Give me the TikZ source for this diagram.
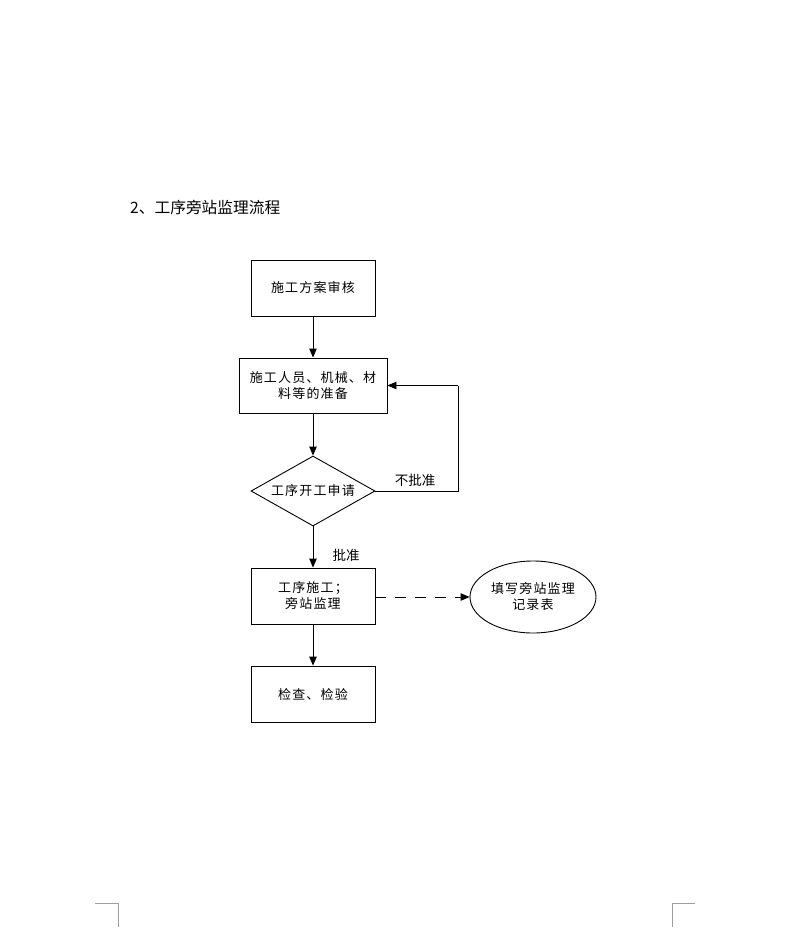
\documentclass[tikz,border=0pt]{standalone}
\usepackage{fontspec}
\setmainfont{Noto Sans CJK SC}
\newfontfamily\cjkbox[LetterSpace=9]{Noto Sans CJK SC}
\usetikzlibrary{shapes.geometric,arrows.meta}
\begin{document}
\begin{tikzpicture}[x=1pt,y=-1pt,
  boxtext/.style={font=\cjkbox\fontsize{13pt}{16pt}\selectfont, align=center, inner sep=0pt},
  procbox/.style={draw, line width=0.9pt, minimum width=124pt, minimum height=56pt, boxtext},
  decis/.style={draw, line width=0.9pt, diamond, minimum width=124pt, minimum height=70pt, boxtext, aspect=1.77},
  recell/.style={draw, line width=0.9pt, ellipse, minimum width=126pt, minimum height=72pt, boxtext},
  flow/.style={line width=0.9pt, -{Triangle[length=9pt,width=7.5pt]}},
  lbl/.style={font=\fontsize{13.5pt}{15pt}\selectfont, inner sep=0pt},
  cornermark/.style={draw=black!38, line width=0.8pt}]
\useasboundingbox (0,0) rectangle (792,937);
\fill[white] (0,0) rectangle (792,937);

\node[anchor=west, font=\fontsize{15.7pt}{18pt}\selectfont, inner sep=0pt] (title) at (130,207) {2、工序旁站监理流程};

\node[procbox] (b1) at (313,288) {施工方案审核};
\node[procbox, minimum width=148pt, minimum height=55pt] (b2) at (313,385.5) {施工人员、机械、材\\料等的准备};
\node[decis, minimum width=124pt, minimum height=70pt] (d) at (313,491) {工序开工申请};
\node[procbox] (b3) at (313,596) {工序施工；\\旁站监理};
\node[recell] (e) at (533,597) {填写旁站监理\\记录表};
\node[procbox] (b4) at (313,694) {检查、检验};

\coordinate (c1) at (458,491);
\coordinate (c2) at (458,385.5);

\draw[flow] (b1.south) -- (b2.north);
\draw[flow] (b2.south) -- (d.north);
\draw[line width=0.9pt] (d.east) -- (c1) -- (c2);
\draw[flow] (c2) -- (b2.east);
\draw[flow] (d.south) -- (b3.north);
\draw[flow, dash pattern=on 11pt off 9pt] (b3.east |- e.west) -- (e.west);
\draw[flow] (b3.south) -- (b4.north);

\node[lbl] (nopass) at (415,480) {不批准};
\node[lbl] (pass) at (346,555) {批准};

\coordinate (lm1) at (95,903);
\coordinate (lm2) at (118,903);
\coordinate (lm3) at (118,927);
\draw[cornermark] (lm1) -- (lm2) -- (lm3);
\coordinate (rm1) at (695,903);
\coordinate (rm2) at (672,903);
\coordinate (rm3) at (672,927);
\draw[cornermark] (rm1) -- (rm2) -- (rm3);
\end{tikzpicture}
\end{document}
